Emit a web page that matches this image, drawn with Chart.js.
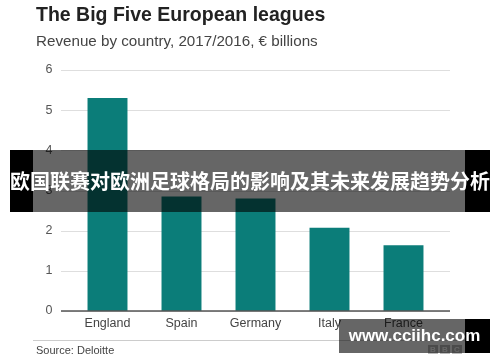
<!DOCTYPE html>
<html>
<head>
<meta charset="utf-8">
<script src="https://cdn.jsdelivr.net/npm/chart.js@4"></script>
<style>
  body { margin: 0; background: #fff; }
  #wrap { position: relative; width: 500px; height: 362px; overflow: hidden; font-family: Helvetica, "Liberation Sans", Arial, sans-serif; }
  #grafico { position: absolute; left: 0; top: 0; }
  .txt { position: absolute; white-space: nowrap; }
  #titulo { left: 36px; top: 3px; font-size: 19.5px; font-weight: bold; color: #222; }
  #subtitulo { left: 36px; top: 32px; font-size: 15.2px; color: #444; }
  #linea { position: absolute; left: 33px; top: 340px; width: 432px; height: 1px; background: #ccc; }
  #fuente { left: 36px; top: 344px; font-size: 11px; color: #444; }
  #bbc { position: absolute; left: 428px; top: 345px; display: flex; gap: 2px; }
  #bbc span { width: 10px; height: 9px; background: #bbb; color: #fff; font-size: 8px; font-weight: bold; line-height: 9px; text-align: center; }
  .negro { position: absolute; background: #000; }
  .gris { position: absolute; background: rgba(0,0,0,0.6); }
  #banner { left: 10px; top: 150px; width: 480px; height: 62px; line-height: 62px; text-align: center; color: #fff; font-size: 20px; font-weight: bold; font-family: "Noto Sans CJK SC", sans-serif; }
  #marca { left: 339px; top: 319px; width: 151px; height: 34px; line-height: 34px; text-align: center; color: #fff; font-size: 17px; font-weight: bold; font-family: "Liberation Sans", Arial, sans-serif; }
</style>
</head>
<body>
<div id="wrap">
  <canvas id="grafico" width="500" height="362"></canvas>
  <div class="txt" id="titulo">The Big Five European leagues</div>
  <div class="txt" id="subtitulo">Revenue by country, 2017/2016, € billions</div>
  <div id="linea"></div>
  <div class="txt" id="fuente">Source: Deloitte</div>
  <div id="bbc"><span>B</span><span>B</span><span>C</span></div>

  <div class="negro" style="left:10px;top:150px;width:23px;height:62px"></div>
  <div class="gris" style="left:33px;top:150px;width:432px;height:62px"></div>
  <div class="negro" style="left:465px;top:150px;width:25px;height:62px"></div>
  <div class="txt" id="banner">欧国联赛对欧洲足球格局的影响及其未来发展趋势分析</div>

  <div class="gris" style="left:339px;top:319px;width:126px;height:34px"></div>
  <div class="negro" style="left:465px;top:319px;width:25px;height:34px"></div>
  <div class="txt" id="marca">www.cciihc.com</div>
</div>

<script>
const paises = ["England", "Spain", "Germany", "Italy", "France"];
const ingresos = [5.3, 2.85, 2.8, 2.07, 1.64];
const ticksY = [0, 1, 2, 3, 4, 5, 6];

const fuenteBase = "Helvetica, 'Liberation Sans', Arial, sans-serif";

// lineas de la grilla un poco mas anchas que el area del grafico
const grillaAncha = {
    id: "grillaAncha",
    beforeDatasetsDraw(chart) {
        const ctx = chart.ctx;
        const y = chart.scales.y;
        ctx.save();
        ticksY.forEach((v) => {
            const py = Math.round(y.getPixelForValue(v)) + 0.5;
            ctx.beginPath();
            ctx.moveTo(61, py);
            ctx.lineTo(450, py);
            ctx.strokeStyle = "#dedede";
            ctx.lineWidth = 1;
            ctx.stroke();
        });
        ctx.restore();
    },
    afterDatasetsDraw(chart) {
        const ctx = chart.ctx;
        const py = chart.scales.y.getPixelForValue(0);
        ctx.save();
        ctx.beginPath();
        ctx.moveTo(61, py);
        ctx.lineTo(450, py);
        ctx.strokeStyle = "#555";
        ctx.lineWidth = 1.5;
        ctx.stroke();
        ctx.restore();
    }
};

new Chart(document.getElementById("grafico"), {
    type: "bar",
    data: {
        labels: paises,
        datasets: [{
            data: ingresos,
            backgroundColor: "#0b7d79",
            borderWidth: 0,
            categoryPercentage: 1,
            barPercentage: 0.54
        }]
    },
    options: {
        responsive: false,
        animation: false,
        layout: { padding: { left: 0, right: 59.5, top: 70, bottom: 0 } },
        plugins: { legend: { display: false }, tooltip: { enabled: false } },
        scales: {
            x: {
                grid: { display: false, drawTicks: false },
                border: { display: false },
                ticks: { color: "#444", padding: 5, font: { family: fuenteBase, size: 12.5 } },
                afterFit(scale) { scale.height = 51; }
            },
            y: {
                min: 0,
                max: 6,
                afterBuildTicks(scale) { scale.ticks = ticksY.map((v) => ({ value: v })); },
                grid: { display: false, drawTicks: false },
                border: { display: false },
                ticks: { color: "#555", padding: 18, font: { family: fuenteBase, size: 12.5 } },
                afterFit(scale) { scale.width = 70.5; }
            }
        }
    },
    plugins: [grillaAncha]
});
</script>
</body>
</html>
